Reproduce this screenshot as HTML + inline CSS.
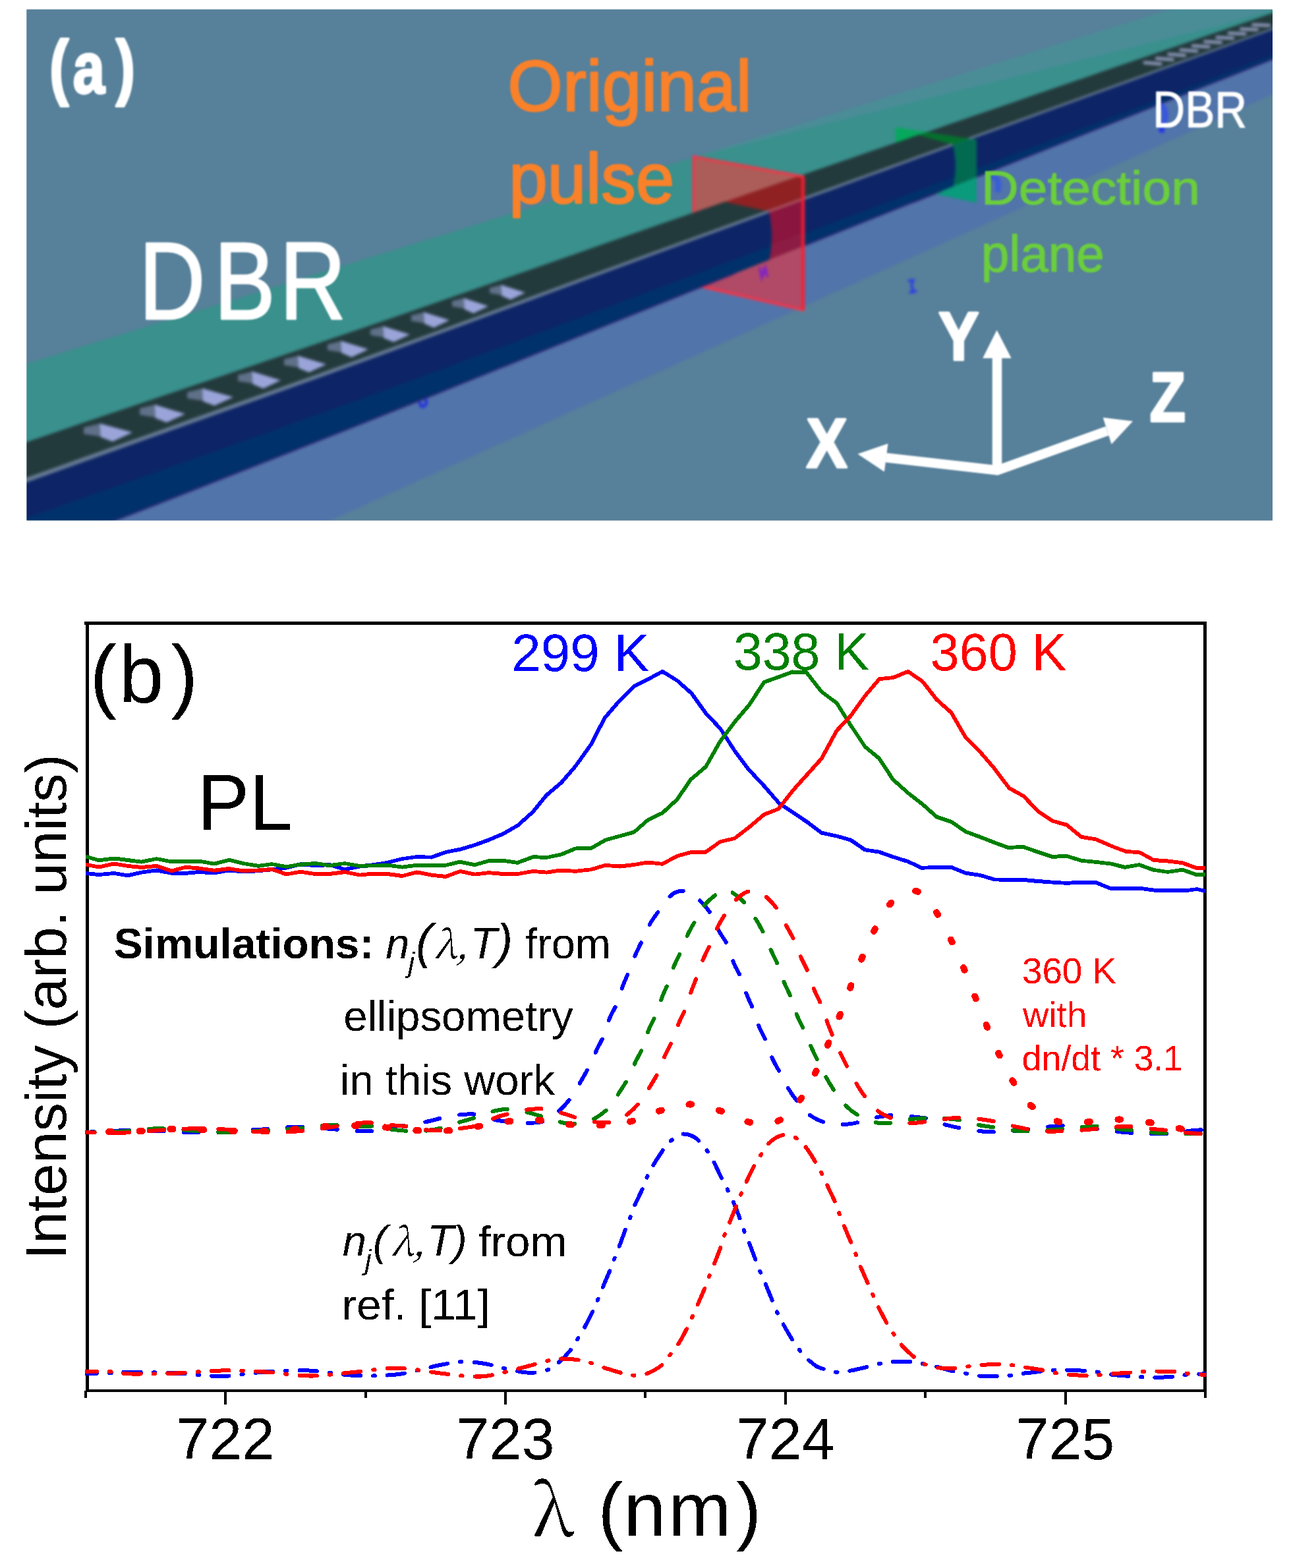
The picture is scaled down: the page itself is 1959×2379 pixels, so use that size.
<!DOCTYPE html>
<html lang="en"><head><meta charset="utf-8"><title>Figure: DBR waveguide simulation and PL spectra</title>
<style>html,body{margin:0;padding:0;background:#fff}body{width:1959px;height:2379px;overflow:hidden}svg{display:block}</style>
</head><body>
<svg width="1959" height="2379" viewBox="0 0 1959 2379">
<rect width="1959" height="2379" fill="#ffffff"/>
<defs><clipPath id="ca"><rect x="40.5" y="14.5" width="1890.5" height="775.0"/></clipPath>
<filter id="bl" x="-5%" y="-5%" width="110%" height="110%" color-interpolation-filters="sRGB"><feGaussianBlur stdDeviation="2.3"/></filter>
<filter id="bl2" x="-5%" y="-5%" width="110%" height="110%" color-interpolation-filters="sRGB"><feGaussianBlur stdDeviation="1.0"/></filter>
</defs>
<rect x="40.5" y="14.5" width="1890.5" height="775.0" fill="#57809a"/>
<g clip-path="url(#ca)">
<g filter="url(#bl)">
<rect x="0" y="0" width="1959" height="820" fill="#57809a"/>
<polygon points="-20.0,866.8 114.0,813.9 248.0,761.2 382.0,708.7 516.0,655.9 650.0,602.4 784.0,548.4 918.0,494.2 1052.0,440.3 1186.0,386.6 1320.0,333.1 1454.0,279.7 1588.0,226.3 1722.0,173.0 1856.0,119.7 1990.0,66.3 1990.0,116.2 1856.0,176.8 1722.0,237.4 1588.0,298.0 1454.0,358.6 1320.0,419.2 1186.0,479.9 1052.0,540.5 918.0,601.1 784.0,661.7 650.0,722.3 516.0,782.9 382.0,843.5 248.0,904.1 114.0,964.7 -20.0,1025.3" fill="#5174aa" />
<polygon points="-20.0,570.6 51.5,548.5 123.0,526.3 194.5,504.2 266.0,482.0 337.5,459.9 409.0,437.7 480.5,415.6 552.0,393.5 623.5,371.3 695.0,349.2 766.5,327.0 838.0,304.9 909.5,282.7 981.0,260.6 1052.5,238.4 1052.5,322.6 981.0,347.5 909.5,372.5 838.0,397.5 766.5,422.6 695.0,447.6 623.5,472.4 552.0,497.1 480.5,521.6 409.0,545.9 337.5,570.1 266.0,594.2 194.5,618.4 123.0,642.6 51.5,667.0 -20.0,691.4" fill="#39908c" />
<polygon points="1052.5,238.4 1115.0,219.1 1177.5,199.7 1240.0,180.4 1302.5,161.0 1365.0,141.7 1427.5,122.3 1490.0,103.0 1552.5,83.6 1615.0,64.2 1677.5,44.9 1740.0,25.5 1802.5,6.2 1865.0,-13.2 1927.5,-32.5 1990.0,-51.9 1990.0,-0.5 1927.5,21.0 1865.0,42.5 1802.5,64.1 1740.0,85.6 1677.5,107.1 1615.0,128.6 1552.5,150.1 1490.0,171.6 1427.5,193.1 1365.0,214.6 1302.5,236.1 1240.0,257.7 1177.5,279.3 1115.0,300.9 1052.5,322.6" fill="#39908c" />
<polygon points="1052.5,238.4 1186.4,197.0 1320.4,155.5 1454.3,114.0 1588.2,72.5 1722.1,31.1 1856.1,-10.4 1990.0,-51.9 1990.0,-3.5 1856.1,37.5 1722.1,71.0 1588.2,104.5 1454.3,138.0 1320.4,171.4 1186.4,204.9 1052.5,238.4" fill="#4a8d97" />
<polygon points="1385.0,207.7 1411.3,198.7 1437.6,189.6 1463.9,180.6 1490.2,171.5 1516.5,162.4 1542.8,153.4 1569.1,144.3 1595.4,135.3 1621.7,126.2 1648.0,117.2 1674.3,108.1 1700.7,99.1 1727.0,90.0 1753.3,81.0 1779.6,71.9 1805.9,62.9 1832.2,53.8 1858.5,44.8 1884.8,35.7 1911.1,26.7 1937.4,17.6 1963.7,8.6 1990.0,-0.5 1990.0,22.6 1963.7,32.1 1937.4,41.6 1911.1,51.1 1884.8,60.7 1858.5,70.2 1832.2,79.7 1805.9,89.2 1779.6,98.7 1753.3,108.2 1727.0,117.7 1700.7,127.3 1674.3,136.8 1648.0,146.3 1621.7,155.8 1595.4,165.3 1569.1,174.8 1542.8,184.4 1516.5,193.9 1490.2,203.4 1463.9,212.9 1437.6,222.4 1411.3,231.9 1385.0,241.5" fill="#233a3c"/>
<path d="M1385.0 240.5 L1411.3 230.9 L1437.6 221.4 L1463.9 211.9 L1490.2 202.4 L1516.5 192.9 L1542.8 183.4 L1569.1 173.8 L1595.4 164.3 L1621.7 154.8 L1648.0 145.3 L1674.3 135.8 L1700.7 126.3 L1727.0 116.7 L1753.3 107.2 L1779.6 97.7 L1805.9 88.2 L1832.2 78.7 L1858.5 69.2 L1884.8 59.7 L1911.1 50.1 L1937.4 40.6 L1963.7 31.1 L1990.0 21.6 L1990.0 66.3 L1963.7 76.8 L1937.4 87.3 L1911.1 97.7 L1884.8 108.2 L1858.5 118.7 L1832.2 129.1 L1805.9 139.6 L1779.6 150.1 L1753.3 160.6 L1727.0 171.0 L1700.7 181.5 L1674.3 192.0 L1648.0 202.4 L1621.7 212.9 L1595.4 223.4 L1569.1 233.9 L1542.8 244.3 L1516.5 254.8 L1490.2 265.3 L1463.9 275.8 L1437.6 286.2 L1411.3 296.7 L1385.0 307.2 Z" fill="#01316a"/>
<path d="M1385.0 240.5 L1411.3 230.9 L1437.6 221.4 L1463.9 211.9 L1490.2 202.4 L1516.5 192.9 L1542.8 183.4 L1569.1 173.8 L1595.4 164.3 L1621.7 154.8 L1648.0 145.3 L1674.3 135.8 L1700.7 126.3 L1727.0 116.7 L1753.3 107.2 L1779.6 97.7 L1805.9 88.2 L1832.2 78.7 L1858.5 69.2 L1884.8 59.7 L1911.1 50.1 L1937.4 40.6 L1963.7 31.1 L1990.0 21.6 L1990.0 59.8 L1963.7 70.1 L1937.4 80.4 L1911.1 90.7 L1884.8 101.1 L1858.5 111.4 L1832.2 121.7 L1805.9 132.1 L1779.6 142.3 L1753.3 152.3 L1727.0 162.4 L1700.7 172.4 L1674.3 182.4 L1648.0 192.4 L1621.7 202.4 L1595.4 212.4 L1569.1 222.4 L1542.8 232.4 L1516.5 242.3 L1490.2 252.3 L1463.9 262.2 L1437.6 272.2 L1411.3 282.1 L1385.0 292.0 Z" fill="#0d2466"/>
<polyline points="1385.0,307.2 1411.3,296.7 1437.6,286.2 1463.9,275.8 1490.2,265.3 1516.5,254.8 1542.8,244.3 1569.1,233.9 1595.4,223.4 1621.7,212.9 1648.0,202.4 1674.3,192.0 1700.7,181.5 1727.0,171.0 1753.3,160.6 1779.6,150.1 1805.9,139.6 1832.2,129.1 1858.5,118.7 1884.8,108.2 1911.1,97.7 1937.4,87.3 1963.7,76.8" fill="none" stroke="#3a1a72" stroke-width="2" opacity="0.8"/>
<polygon points="1385.0,239.4 1411.3,229.9 1437.6,220.5 1463.9,211.0 1490.2,201.5 1516.5,192.0 1542.8,182.5 1569.1,173.0 1595.4,163.5 1621.7,154.0 1648.0,144.6 1674.3,135.1 1700.7,125.6 1727.0,116.1 1753.3,106.6 1779.6,97.1 1805.9,87.7 1832.2,78.2 1858.5,68.7 1884.8,59.2 1911.1,49.7 1937.4,40.2 1963.7,30.8 1990.0,21.3 1990.0,23.9 1963.7,33.5 1937.4,43.0 1911.1,52.6 1884.8,62.1 1858.5,71.7 1832.2,81.2 1805.9,90.7 1779.6,100.3 1753.3,109.8 1727.0,119.4 1700.7,128.9 1674.3,138.5 1648.0,148.0 1621.7,157.6 1595.4,167.1 1569.1,176.7 1542.8,186.2 1516.5,195.8 1490.2,205.3 1463.9,214.8 1437.6,224.4 1411.3,233.9 1385.0,243.5" fill="#667a93"/>
<line x1="1737.0" y1="95.0" x2="1761.0" y2="97.1" stroke="#8a93b4" stroke-width="5" stroke-linecap="round"/>
<line x1="1755.3" y1="88.6" x2="1779.3" y2="90.6" stroke="#8a93b4" stroke-width="5" stroke-linecap="round"/>
<line x1="1773.6" y1="82.2" x2="1797.6" y2="84.1" stroke="#8a93b4" stroke-width="5" stroke-linecap="round"/>
<line x1="1791.9" y1="75.8" x2="1815.9" y2="77.5" stroke="#8a93b4" stroke-width="5" stroke-linecap="round"/>
<line x1="1810.2" y1="69.4" x2="1834.2" y2="71.0" stroke="#8a93b4" stroke-width="5" stroke-linecap="round"/>
<line x1="1828.5" y1="63.1" x2="1852.5" y2="64.5" stroke="#8a93b4" stroke-width="5" stroke-linecap="round"/>
<line x1="1846.8" y1="56.7" x2="1870.8" y2="58.0" stroke="#8a93b4" stroke-width="5" stroke-linecap="round"/>
<line x1="1865.1" y1="50.3" x2="1889.1" y2="51.4" stroke="#8a93b4" stroke-width="5" stroke-linecap="round"/>
<line x1="1883.4" y1="43.9" x2="1907.4" y2="44.9" stroke="#8a93b4" stroke-width="5" stroke-linecap="round"/>
<line x1="1901.7" y1="37.5" x2="1925.7" y2="38.4" stroke="#8a93b4" stroke-width="5" stroke-linecap="round"/>
<clipPath id="cg"><polygon points="1359.0,193.3 1481.7,212.3 1481.7,307.4 1359.0,281.7"/></clipPath>
<g clip-path="url(#cg)">
<rect x="1350" y="180" width="140" height="140" fill="#06a85c"/>
<polygon points="1340.0,325.1 1350.7,320.9 1361.3,316.6 1372.0,312.4 1382.7,308.1 1393.3,303.9 1404.0,299.6 1414.7,295.4 1425.3,291.1 1436.0,286.9 1446.7,282.6 1457.3,278.4 1468.0,274.1 1478.7,269.9 1489.3,265.6 1500.0,261.4 1500.0,461.4 1489.3,465.6 1478.7,469.9 1468.0,474.1 1457.3,478.4 1446.7,482.6 1436.0,486.9 1425.3,491.1 1414.7,495.4 1404.0,499.6 1393.3,503.9 1382.7,508.1 1372.0,512.4 1361.3,516.6 1350.7,520.9 1340.0,525.1" fill="#0a9a7c" />
<polygon points="1340.0,223.2 1350.7,219.5 1361.3,215.9 1372.0,212.2 1382.7,208.5 1393.3,204.8 1404.0,201.2 1414.7,197.5 1425.3,193.8 1436.0,190.2 1446.7,186.5 1457.3,182.8 1468.0,179.1 1478.7,175.5 1489.3,171.8 1500.0,168.1 1500.0,199.8 1489.3,203.7 1478.7,207.6 1468.0,211.4 1457.3,215.3 1446.7,219.1 1436.0,223.0 1425.3,226.9 1414.7,230.7 1404.0,234.6 1393.3,238.4 1382.7,242.3 1372.0,246.2 1361.3,250.0 1350.7,253.9 1340.0,257.8" fill="#04702c" />
<polygon points="1340.0,257.8 1350.7,253.9 1361.3,250.0 1372.0,246.2 1382.7,242.3 1393.3,238.4 1404.0,234.6 1414.7,230.7 1425.3,226.9 1436.0,223.0 1446.7,219.1 1457.3,215.3 1468.0,211.4 1478.7,207.6 1489.3,203.7 1500.0,199.8 1500.0,261.4 1489.3,265.6 1478.7,269.9 1468.0,274.1 1457.3,278.4 1446.7,282.6 1436.0,286.9 1425.3,291.1 1414.7,295.4 1404.0,299.6 1393.3,303.9 1382.7,308.1 1372.0,312.4 1361.3,316.6 1350.7,320.9 1340.0,325.1" fill="#036a52" />
</g>
<polygon points="1085.0,311.3 1100.7,305.9 1116.3,300.5 1132.0,295.0 1147.7,289.6 1163.3,284.2 1179.0,278.8 1194.7,273.3 1210.4,267.9 1226.0,262.5 1241.7,257.1 1257.4,251.7 1273.0,246.3 1288.7,240.9 1304.4,235.5 1320.0,230.1 1335.7,224.7 1351.4,219.3 1367.1,213.9 1382.7,208.5 1393.4,204.8 1445.4,219.6 1445.4,219.6 1429.7,225.3 1414.1,230.9 1398.4,236.6 1382.7,242.3 1367.1,248.0 1351.4,253.6 1335.7,259.3 1320.0,265.0 1304.4,270.7 1288.7,276.3 1273.0,282.0 1257.4,287.7 1241.7,293.4 1226.0,299.1 1210.4,304.8 1194.7,310.5 1179.0,316.1 1163.3,321.8 1147.7,327.5 1132.0,333.2 1116.3,338.9 1100.7,344.7 1085.0,350.4" fill="#233a3c"/>
<path d="M1085.0 349.4 L1100.7 343.7 L1116.3 337.9 L1132.0 332.2 L1147.7 326.5 L1163.3 320.8 L1179.0 315.1 L1194.7 309.5 L1210.4 303.8 L1226.0 298.1 L1241.7 292.4 L1257.4 286.7 L1273.0 281.0 L1288.7 275.3 L1304.4 269.7 L1320.0 264.0 L1335.7 258.3 L1351.4 252.6 L1367.1 247.0 L1382.7 241.3 L1398.4 235.6 L1414.1 229.9 L1429.7 224.3 L1445.4 218.6 Q1454.4 250.9 1446.2 283.1 L1445.4 283.1 L1429.7 289.4 L1414.1 295.6 L1398.4 301.9 L1382.7 308.1 L1367.1 314.3 L1351.4 320.6 L1335.7 326.8 L1320.0 333.1 L1304.4 339.3 L1288.7 345.6 L1273.0 351.8 L1257.4 358.1 L1241.7 364.3 L1226.0 370.6 L1210.4 376.8 L1194.7 383.1 L1179.0 389.4 L1163.3 395.6 L1147.7 401.9 L1132.0 408.2 L1116.3 414.4 L1100.7 420.7 L1085.0 427.0 Z" fill="#01316a"/>
<path d="M1085.0 349.4 L1100.7 343.7 L1116.3 337.9 L1132.0 332.2 L1147.7 326.5 L1163.3 320.8 L1179.0 315.1 L1194.7 309.5 L1210.4 303.8 L1226.0 298.1 L1241.7 292.4 L1257.4 286.7 L1273.0 281.0 L1288.7 275.3 L1304.4 269.7 L1320.0 264.0 L1335.7 258.3 L1351.4 252.6 L1367.1 247.0 L1382.7 241.3 L1398.4 235.6 L1414.1 229.9 L1429.7 224.3 L1445.4 218.6 Q1451.4 243.9 1445.6 269.2 L1445.4 269.2 L1429.7 275.1 L1414.1 281.0 L1398.4 287.0 L1382.7 292.9 L1367.1 298.8 L1351.4 304.7 L1335.7 310.6 L1320.0 316.5 L1304.4 322.4 L1288.7 328.2 L1273.0 334.1 L1257.4 340.0 L1241.7 345.9 L1226.0 351.8 L1210.4 357.7 L1194.7 363.6 L1179.0 369.4 L1163.3 375.3 L1147.7 381.2 L1132.0 387.1 L1116.3 392.9 L1100.7 398.8 L1085.0 404.7 Z" fill="#0d2466"/>
<polyline points="1085.0,427.0 1100.7,420.7 1116.3,414.4 1132.0,408.2 1147.7,401.9 1163.3,395.6 1179.0,389.4 1194.7,383.1 1210.4,376.8 1226.0,370.6 1241.7,364.3 1257.4,358.1 1273.0,351.8 1288.7,345.6 1304.4,339.3 1320.0,333.1 1335.7,326.8 1351.4,320.6 1367.1,314.3 1382.7,308.1 1398.4,301.9 1414.1,295.6 1429.7,289.4" fill="none" stroke="#3a1a72" stroke-width="2" opacity="0.8"/>
<polygon points="1085.0,348.0 1100.7,342.3 1116.3,336.6 1132.0,330.9 1147.7,325.2 1163.3,319.5 1179.0,313.9 1194.7,308.2 1210.4,302.5 1226.0,296.9 1241.7,291.2 1257.4,285.5 1273.0,279.9 1288.7,274.2 1304.4,268.5 1320.0,262.9 1335.7,257.2 1351.4,251.6 1367.1,245.9 1382.7,240.3 1398.4,234.6 1414.1,228.9 1429.7,223.3 1445.4,217.6 1445.4,221.6 1429.7,227.3 1414.1,232.9 1398.4,238.6 1382.7,244.3 1367.1,250.0 1351.4,255.7 1335.7,261.4 1320.0,267.1 1304.4,272.8 1288.7,278.5 1273.0,284.2 1257.4,289.9 1241.7,295.6 1226.0,301.3 1210.4,307.0 1194.7,312.7 1179.0,318.4 1163.3,324.1 1147.7,329.9 1132.0,335.6 1116.3,341.3 1100.7,347.0 1085.0,352.8" fill="#667a93"/>
<clipPath id="cr"><polygon points="1052.5,237.6 1218.7,268.0 1218.7,470.3 1052.5,432.0"/></clipPath>
<g clip-path="url(#cr)">
<rect x="1040" y="220" width="200" height="270" fill="#ac5d59"/>
<polygon points="1040.0,445.1 1053.3,439.7 1066.7,434.4 1080.0,429.0 1093.3,423.7 1106.7,418.3 1120.0,413.0 1133.3,407.6 1146.7,402.3 1160.0,397.0 1173.3,391.6 1186.7,386.3 1200.0,381.0 1213.3,375.6 1226.7,370.3 1240.0,365.0 1240.0,565.0 1226.7,570.3 1213.3,575.6 1200.0,581.0 1186.7,586.3 1173.3,591.6 1160.0,597.0 1146.7,602.3 1133.3,607.6 1120.0,613.0 1106.7,618.3 1093.3,623.7 1080.0,629.0 1066.7,634.4 1053.3,639.7 1040.0,645.1" fill="#b04a66" />
<polygon points="1040.0,327.0 1053.3,322.3 1066.7,317.7 1080.0,313.1 1093.3,308.4 1106.7,303.8 1120.0,299.2 1133.3,294.6 1146.7,290.0 1160.0,285.3 1173.3,280.7 1186.7,276.1 1200.0,271.5 1213.3,266.9 1226.7,262.3 1240.0,257.7 1240.0,294.0 1226.7,298.8 1213.3,303.7 1200.0,308.5 1186.7,313.4 1173.3,318.2 1160.0,323.1 1146.7,327.9 1133.3,332.8 1120.0,337.6 1106.7,342.5 1093.3,347.3 1080.0,352.2 1066.7,357.1 1053.3,361.9 1040.0,366.8" fill="#8f2123" />
<polygon points="1040.0,366.8 1053.3,361.9 1066.7,357.1 1080.0,352.2 1093.3,347.3 1106.7,342.5 1120.0,337.6 1133.3,332.8 1146.7,327.9 1160.0,323.1 1173.3,318.2 1186.7,313.4 1200.0,308.5 1213.3,303.7 1226.7,298.8 1240.0,294.0 1240.0,346.5 1226.7,351.5 1213.3,356.6 1200.0,361.6 1186.7,366.6 1173.3,371.6 1160.0,376.6 1146.7,381.6 1133.3,386.6 1120.0,391.6 1106.7,396.6 1093.3,401.6 1080.0,406.6 1066.7,411.6 1053.3,416.6 1040.0,421.6" fill="#8a153e" />
<polygon points="1040.0,421.6 1053.3,416.6 1066.7,411.6 1080.0,406.6 1093.3,401.6 1106.7,396.6 1120.0,391.6 1133.3,386.6 1146.7,381.6 1160.0,376.6 1173.3,371.6 1186.7,366.6 1200.0,361.6 1213.3,356.6 1226.7,351.5 1240.0,346.5 1240.0,365.0 1226.7,370.3 1213.3,375.6 1200.0,381.0 1186.7,386.3 1173.3,391.6 1160.0,397.0 1146.7,402.3 1133.3,407.6 1120.0,413.0 1106.7,418.3 1093.3,423.7 1080.0,429.0 1066.7,434.4 1053.3,439.7 1040.0,445.1" fill="#8c1c44" />
<line x1="1040" y1="366.8" x2="1240" y2="294.0" stroke="#a8505e" stroke-width="4"/>
</g>
<polygon points="1052.5,237.6 1218.7,268.0 1218.7,470.3 1052.5,432.0" fill="none" stroke="#ff3044" stroke-width="3.5"/>
<line x1="1218.7" y1="268" x2="1218.7" y2="470" stroke="#ff1c30" stroke-width="4.5"/>
<polygon points="-20.0,691.4 31.6,673.7 83.2,656.2 134.7,638.6 186.3,621.2 237.9,603.7 289.5,586.3 341.1,568.9 392.7,551.4 444.2,533.9 495.8,516.3 547.4,498.7 599.0,480.9 650.6,463.0 702.2,445.1 753.7,427.0 805.3,409.0 856.9,390.9 908.5,372.8 960.1,354.8 1011.7,336.8 1063.2,318.9 1099.4,306.3 1166.4,320.7 1166.4,320.7 1114.8,339.5 1063.2,358.3 1011.7,377.2 960.1,396.1 908.5,415.0 856.9,434.0 805.3,453.0 753.7,471.9 702.2,490.9 650.6,509.7 599.0,528.5 547.4,547.2 495.8,565.8 444.2,584.3 392.7,602.7 341.1,621.1 289.5,639.4 237.9,657.7 186.3,676.1 134.7,694.5 83.2,712.9 31.6,731.4 -20.0,749.9" fill="#233a3c"/>
<path d="M-20.0 748.9 L31.6 730.4 L83.2 711.9 L134.7 693.5 L186.3 675.1 L237.9 656.7 L289.5 638.4 L341.1 620.1 L392.7 601.7 L444.2 583.3 L495.8 564.8 L547.4 546.2 L599.0 527.5 L650.6 508.7 L702.2 489.9 L753.7 470.9 L805.3 452.0 L856.9 433.0 L908.5 414.0 L960.1 395.1 L1011.7 376.2 L1063.2 357.3 L1114.8 338.5 L1166.4 319.7 Q1175.4 357.1 1167.2 394.4 L1166.4 394.4 L1114.8 415.1 L1063.2 435.7 L1011.7 456.5 L960.1 477.3 L908.5 498.1 L856.9 518.9 L805.3 539.8 L753.7 560.6 L702.2 581.4 L650.6 602.2 L599.0 622.8 L547.4 643.4 L495.8 663.9 L444.2 684.2 L392.7 704.5 L341.1 724.8 L289.5 745.0 L237.9 765.2 L186.3 785.4 L134.7 805.7 L83.2 826.0 L31.6 846.4 L-20.0 866.8 Z" fill="#01316a"/>
<path d="M-20.0 748.9 L31.6 730.4 L83.2 711.9 L134.7 693.5 L186.3 675.1 L237.9 656.7 L289.5 638.4 L341.1 620.1 L392.7 601.7 L444.2 583.3 L495.8 564.8 L547.4 546.2 L599.0 527.5 L650.6 508.7 L702.2 489.9 L753.7 470.9 L805.3 452.0 L856.9 433.0 L908.5 414.0 L960.1 395.1 L1011.7 376.2 L1063.2 357.3 L1114.8 338.5 L1166.4 319.7 Q1172.4 346.9 1166.6 374.2 L1166.4 374.2 L1114.8 393.5 L1063.2 412.9 L1011.7 432.2 L960.1 451.6 L908.5 471.0 L856.9 490.3 L805.3 509.7 L753.7 528.9 L702.2 548.1 L650.6 567.3 L599.0 586.2 L547.4 605.1 L495.8 623.8 L444.2 642.3 L392.7 660.8 L341.1 679.2 L289.5 697.4 L237.9 715.7 L186.3 734.0 L134.7 752.2 L83.2 770.4 L31.6 788.7 L-20.0 806.9 Z" fill="#0d2466"/>
<polyline points="-20.0,866.8 31.6,846.4 83.2,826.0 134.7,805.7 186.3,785.4 237.9,765.2 289.5,745.0 341.1,724.8 392.7,704.5 444.2,684.2 495.8,663.9 547.4,643.4 599.0,622.8 650.6,602.2 702.2,581.4 753.7,560.6 805.3,539.8 856.9,518.9 908.5,498.1 960.1,477.3 1011.7,456.5 1063.2,435.7 1114.8,415.1" fill="none" stroke="#3a1a72" stroke-width="2" opacity="0.8"/>
<polygon points="-20.0,746.3 31.6,727.8 83.2,709.4 134.7,691.0 186.3,672.7 237.9,654.4 289.5,636.1 341.1,617.8 392.7,599.5 444.2,581.2 495.8,562.7 547.4,544.2 599.0,525.6 650.6,506.9 702.2,488.0 753.7,469.2 805.3,450.3 856.9,431.3 908.5,412.4 960.1,393.5 1011.7,374.7 1063.2,355.9 1114.8,337.2 1166.4,318.4 1166.4,323.0 1114.8,341.9 1063.2,360.7 1011.7,379.6 960.1,398.6 908.5,417.6 856.9,436.6 805.3,455.7 753.7,474.7 702.2,493.7 650.6,512.6 599.0,531.5 547.4,550.2 495.8,568.9 444.2,587.4 392.7,605.9 341.1,624.3 289.5,642.7 237.9,661.1 186.3,679.5 134.7,698.0 83.2,716.5 31.6,735.0 -20.0,753.6" fill="#667a93"/>
<polygon points="127.0,648.5 153.6,642.3 154.6,662.4 127.0,658.6" fill="#5f7089"/>
<polygon points="151.6,642.4 201.0,656.1 170.8,670.0 152.6,663.1" fill="#9aa4d9"/>
<polygon points="212.0,619.6 236.8,613.8 237.8,633.5 212.0,629.4" fill="#5f7089"/>
<polygon points="234.8,614.0 281.0,628.0 252.8,641.1 235.8,634.2" fill="#9aa4d9"/>
<polygon points="284.0,595.1 309.1,589.1 310.1,608.3 284.0,604.6" fill="#5f7089"/>
<polygon points="307.1,589.3 354.0,602.4 325.4,615.6 308.1,609.0" fill="#9aa4d9"/>
<polygon points="361.0,568.9 384.4,563.5 385.4,582.1 361.0,578.2" fill="#5f7089"/>
<polygon points="382.4,563.6 426.0,577.1 399.4,589.5 383.4,582.8" fill="#9aa4d9"/>
<polygon points="431.0,545.0 454.1,539.6 455.1,557.8 431.0,554.1" fill="#5f7089"/>
<polygon points="452.1,539.8 495.0,552.7 468.8,565.0 453.1,558.5" fill="#9aa4d9"/>
<polygon points="497.0,522.4 519.4,517.1 520.4,534.9 497.0,531.3" fill="#5f7089"/>
<polygon points="517.4,517.3 559.0,530.0 533.6,541.9 518.4,535.6" fill="#9aa4d9"/>
<polygon points="562.0,499.9 583.6,494.8 584.6,512.2 562.0,508.6" fill="#5f7089"/>
<polygon points="581.6,495.0 622.0,507.4 597.4,519.1 582.6,512.9" fill="#9aa4d9"/>
<polygon points="624.0,478.4 645.0,473.4 646.0,490.4 624.0,486.9" fill="#5f7089"/>
<polygon points="643.0,473.6 682.0,485.8 658.2,497.2 644.0,491.1" fill="#9aa4d9"/>
<polygon points="686.0,456.7 705.9,452.0 706.9,468.6 686.0,465.0" fill="#5f7089"/>
<polygon points="703.9,452.2 741.0,464.4 718.4,475.4 704.9,469.3" fill="#9aa4d9"/>
<polygon points="743.0,436.7 762.5,432.0 763.5,448.2 743.0,444.8" fill="#5f7089"/>
<polygon points="760.5,432.3 797.0,444.1 774.8,454.8 761.5,448.9" fill="#9aa4d9"/>
<path d="M637 611 q2 10 9 3 q2 -3 0 -7" fill="none" stroke="#2430e0" stroke-width="4.5" stroke-linecap="round"/>
<path d="M1379 426 l7 -1 l-3 8 l3 8 l-6 3 l10 -2" fill="none" stroke="#2a3ae8" stroke-width="3.5" stroke-linecap="round"/>
<path d="M1153 407 l3 14 l5 -15 l3 13" fill="none" stroke="#7a20d0" stroke-width="3.5" stroke-linecap="round"/>
<path d="M1762 160 q10 8 4 26" fill="none" stroke="#3550e8" stroke-width="9" stroke-linecap="round" opacity="0.85"/><circle cx="1763" cy="197" r="4.5" fill="#2030f0"/>
<path d="M1506 268 q12 4 8 20" fill="none" stroke="#3558e0" stroke-width="9" stroke-linecap="round" opacity="0.85"/>
</g>
<g filter="url(#bl2)">
<text transform="scale(0.8650 1.0900)" x="87.04 127.94 203.60" y="126.61 128.99 126.61" font-family='"Liberation Sans", Arial, Helvetica, sans-serif' font-size="100" font-weight="bold" fill="#ffffff" stroke="#fff" stroke-width="3.6" stroke-linejoin="round">(a)</text>
<text transform="scale(1.3950 1.6750)" x="151.08 232.87 304.20" y="289.01 289.01 289.01" font-family='"Liberation Sans", Arial, Helvetica, sans-serif' font-size="100" fill="#ffffff" stroke="#fff" stroke-width="1.6" stroke-linejoin="round">DBR</text>
<text transform="translate(1749.24 192.60) scale(0.6773 0.7718)" font-family='"Liberation Sans", Arial, Helvetica, sans-serif' font-size="100" fill="#ffffff"  stroke="#ffffff" stroke-width="1.38" stroke-linejoin="round">DBR</text>
<text transform="translate(770.36 167.65) scale(1.0746 1.0847)" font-family='"Liberation Sans", Arial, Helvetica, sans-serif' font-size="100" fill="#f9812a"  stroke="#f9812a" stroke-width="2.32" stroke-linejoin="round">Original</text>
<text transform="translate(772.28 307.95) scale(1.0496 1.0668)" font-family='"Liberation Sans", Arial, Helvetica, sans-serif' font-size="100" fill="#f9812a"  stroke="#f9812a" stroke-width="2.36" stroke-linejoin="round">pulse</text>
<text transform="translate(1489.05 310.30) scale(0.7857 0.7311)" font-family='"Liberation Sans", Arial, Helvetica, sans-serif' font-size="100" fill="#6bce3d"  stroke="#6bce3d" stroke-width="1.58" stroke-linejoin="round">Detection</text>
<text transform="translate(1488.67 411.80) scale(0.7648 0.7687)" font-family='"Liberation Sans", Arial, Helvetica, sans-serif' font-size="100" fill="#6bce3d"  stroke="#6bce3d" stroke-width="1.57" stroke-linejoin="round">plane</text>
<text transform="translate(1424.28 545.85) scale(0.9167 1.0422)" font-family='"Liberation Sans", Arial, Helvetica, sans-serif' font-size="100" font-weight="bold" fill="#ffffff"  stroke="#ffffff" stroke-width="3.57" stroke-linejoin="round">Y</text>
<text transform="translate(1744.71 639.15) scale(0.8855 1.0480)" font-family='"Liberation Sans", Arial, Helvetica, sans-serif' font-size="100" font-weight="bold" fill="#ffffff"  stroke="#ffffff" stroke-width="3.62" stroke-linejoin="round">Z</text>
<text transform="translate(1223.84 709.25) scale(0.9270 1.0480)" font-family='"Liberation Sans", Arial, Helvetica, sans-serif' font-size="100" font-weight="bold" fill="#ffffff"  stroke="#ffffff" stroke-width="3.54" stroke-linejoin="round">X</text>
<g fill="#fff" stroke="#fff" stroke-linejoin="miter">
<polyline points="1344.5,694.4 1513.4,713.5 1680.0,653.8" fill="none" stroke-width="14.5" stroke-linejoin="miter"/>
<line x1="1513" y1="543" x2="1513" y2="714" stroke-width="14.5"/>
<polygon points="1512.6,500.8 1534.7,543.4 1491.2,543.4" stroke="none"/>
<polygon points="1719.1,639.1 1686.6,674.1 1673.7,633.5" stroke="none"/>
<polygon points="1301.4,688.8 1347.5,673.0 1341.9,715.8" stroke="none"/>
</g>
</g>
</g>
<defs><clipPath id="cb"><rect x="129.5" y="943" width="1700.8" height="1169"/></clipPath>
<filter id="thr" x="0" y="0" width="100%" height="100%" filterUnits="userSpaceOnUse" color-interpolation-filters="sRGB"><feComponentTransfer><feFuncA type="discrete" tableValues="0 1"/></feComponentTransfer></filter></defs>
<g filter="url(#thr)">
<g fill="#000" shape-rendering="crispEdges">
<rect x="128" y="943" width="1703" height="4.6"/>
<rect x="130.2" y="943" width="4.4" height="1169"/>
<rect x="1826.4" y="943" width="4.5" height="1169"/>
<rect x="130.2" y="2107.8" width="1700.7" height="4.4"/>
<rect x="340.1" y="2110" width="4" height="21"/>
<rect x="764.9" y="2110" width="4" height="21"/>
<rect x="1189.8" y="2110" width="4" height="21"/>
<rect x="1614.6" y="2110" width="4" height="21"/>
<rect x="127.7" y="2110" width="4" height="10.8"/>
<rect x="552.5" y="2110" width="4" height="10.8"/>
<rect x="977.3" y="2110" width="4" height="10.8"/>
<rect x="1402.2" y="2110" width="4" height="10.8"/>
<rect x="1827.0" y="2110" width="4" height="10.8"/>
</g>
<g clip-path="url(#cb)" fill="none" stroke-linejoin="round">
<path d="M130.0 2084.0 C135.8 2083.9 153.3 2083.8 165.0 2083.4 C176.7 2083.0 182.8 2081.8 200.0 2081.8 C217.2 2081.8 245.5 2082.5 268.0 2083.5 C290.5 2084.5 312.7 2088.3 335.0 2088.0 C357.3 2087.7 379.7 2082.9 402.0 2081.5 C424.3 2080.1 446.7 2078.5 469.0 2079.4 C491.3 2080.3 513.7 2085.8 536.0 2086.8 C558.3 2087.8 581.0 2087.8 603.0 2085.2 C625.0 2082.6 651.4 2074.2 668.0 2071.0 C684.6 2067.8 691.5 2066.3 702.8 2066.0 C714.1 2065.7 725.3 2067.2 736.0 2069.0 C746.7 2070.8 756.0 2074.2 767.0 2076.5 C778.0 2078.8 791.3 2082.4 802.0 2082.7 C812.7 2083.0 823.4 2081.1 831.1 2078.4 C838.9 2075.7 842.5 2071.8 848.5 2066.5 C854.5 2061.2 862.2 2052.8 867.0 2046.7 C871.8 2040.6 874.0 2035.7 877.5 2029.9 C881.0 2024.1 884.3 2019.1 888.1 2012.0 C891.9 2004.9 897.2 1994.2 900.5 1987.2 C903.8 1980.2 905.4 1975.9 907.9 1969.9 C910.4 1963.9 912.3 1958.7 915.4 1951.3 C918.5 1943.9 923.6 1932.4 926.5 1925.3 C929.4 1918.2 930.4 1914.4 932.7 1908.5 C935.0 1902.6 937.3 1897.4 940.1 1890.1 C942.9 1882.8 946.6 1871.7 949.3 1864.6 C952.0 1857.5 953.9 1853.3 956.2 1847.3 C958.5 1841.3 960.1 1835.9 963.2 1828.7 C966.3 1821.5 971.8 1810.9 974.8 1803.9 C977.8 1796.9 978.9 1792.4 981.5 1786.6 C984.1 1780.8 986.7 1775.7 990.4 1769.3 C994.1 1762.9 999.6 1754.3 1003.8 1748.2 C1008.0 1742.1 1011.0 1737.2 1015.7 1732.9 C1020.4 1728.6 1027.3 1724.2 1031.8 1722.2 C1036.3 1720.2 1038.6 1720.0 1042.9 1721.0 C1047.2 1722.0 1053.0 1724.5 1057.8 1728.4 C1062.6 1732.3 1067.8 1738.9 1071.9 1744.5 C1076.0 1750.1 1078.8 1754.6 1082.6 1761.8 C1086.4 1769.0 1091.5 1780.7 1095.0 1787.8 C1098.5 1794.9 1100.7 1798.6 1103.6 1804.4 C1106.5 1810.2 1109.2 1815.3 1112.3 1822.5 C1115.4 1829.7 1119.5 1840.1 1122.2 1847.3 C1124.9 1854.5 1126.1 1859.9 1128.4 1865.9 C1130.7 1871.9 1132.9 1876.0 1135.8 1883.2 C1138.7 1890.4 1142.9 1902.0 1145.7 1909.2 C1148.5 1916.4 1150.0 1920.8 1152.4 1926.6 C1154.8 1932.4 1156.9 1936.7 1159.9 1943.9 C1162.9 1951.1 1167.6 1962.7 1170.5 1969.9 C1173.4 1977.1 1174.7 1981.2 1177.4 1987.2 C1180.1 1993.2 1182.8 1998.8 1186.6 2005.8 C1190.4 2012.8 1196.3 2023.0 1200.2 2029.4 C1204.1 2035.8 1206.4 2039.2 1210.1 2044.2 C1213.8 2049.2 1217.8 2054.3 1222.5 2059.1 C1227.2 2063.8 1234.0 2069.7 1238.6 2072.7 C1243.2 2075.7 1245.1 2075.5 1250.0 2077.0 C1254.9 2078.5 1261.9 2081.2 1268.0 2081.8 C1274.1 2082.4 1278.5 2081.7 1286.4 2080.4 C1294.3 2079.1 1307.3 2076.0 1315.2 2074.1 C1323.1 2072.2 1327.6 2070.4 1333.6 2069.1 C1339.5 2067.8 1342.6 2066.6 1350.9 2066.1 C1359.2 2065.6 1375.3 2065.6 1383.2 2066.1 C1391.1 2066.6 1392.2 2067.7 1398.2 2068.8 C1404.2 2070.0 1410.9 2071.0 1418.9 2073.0 C1427.0 2075.0 1438.8 2078.8 1446.5 2080.6 C1454.2 2082.4 1458.7 2082.7 1465.0 2083.8 C1471.3 2084.9 1476.3 2086.6 1484.6 2087.3 C1492.8 2088.0 1506.4 2088.1 1514.5 2088.0 C1522.6 2087.9 1526.8 2087.5 1533.0 2086.8 C1539.2 2086.1 1543.2 2085.1 1551.4 2084.0 C1559.7 2082.9 1574.5 2081.3 1582.5 2080.4 C1590.5 2079.5 1593.7 2078.9 1599.6 2078.6 C1605.5 2078.3 1609.6 2078.4 1617.8 2078.6 C1626.0 2078.8 1640.9 2079.3 1648.9 2079.8 C1657.0 2080.3 1660.0 2080.7 1666.1 2081.6 C1672.1 2082.5 1676.8 2084.4 1685.2 2085.5 C1693.6 2086.6 1708.2 2087.5 1716.3 2088.1 C1724.3 2088.7 1727.8 2089.0 1733.5 2089.3 C1739.2 2089.6 1742.4 2090.0 1750.8 2089.9 C1759.2 2089.8 1775.6 2089.2 1783.7 2088.5 C1791.8 2087.8 1791.7 2086.6 1799.2 2085.9 C1806.8 2085.2 1824.0 2084.5 1829.0 2084.2" stroke="#0000ff" stroke-dasharray="26.4 19 2.4 19.1" stroke-dashoffset="9.4" stroke-linecap="round" stroke-width="6"/>
<path d="M130.0 2081.0 C135.8 2081.0 153.3 2080.4 165.0 2081.0 C176.7 2081.6 182.8 2084.1 200.0 2084.5 C217.2 2084.9 245.5 2084.2 268.0 2083.4 C290.5 2082.6 312.7 2079.7 335.0 2079.4 C357.3 2079.1 379.7 2080.2 402.0 2081.5 C424.3 2082.8 446.7 2087.4 469.0 2087.5 C491.3 2087.6 513.7 2083.9 536.0 2082.0 C558.3 2080.1 581.0 2075.6 603.0 2075.8 C625.0 2076.0 651.4 2081.5 668.0 2083.4 C684.6 2085.3 691.5 2086.7 702.8 2087.5 C714.1 2088.3 725.3 2089.0 736.0 2088.0 C746.7 2087.0 756.0 2084.1 767.0 2081.5 C778.0 2078.9 790.9 2075.4 802.0 2072.5 C813.1 2069.6 825.2 2065.8 833.6 2064.0 C842.0 2062.2 844.2 2061.6 852.2 2061.6 C860.2 2061.6 874.0 2062.8 881.9 2064.0 C889.8 2065.2 894.0 2067.1 899.8 2069.0 C905.6 2070.9 908.9 2072.7 916.6 2075.2 C924.4 2077.7 938.2 2082.0 946.3 2083.9 C954.3 2085.8 958.9 2086.8 964.9 2086.8 C970.9 2086.8 975.7 2086.5 982.2 2083.9 C988.7 2081.3 998.0 2076.2 1003.8 2071.5 C1009.6 2066.8 1012.6 2060.8 1016.9 2055.4 C1021.1 2050.0 1025.0 2046.1 1029.3 2039.3 C1033.6 2032.5 1039.3 2021.5 1042.9 2014.5 C1046.5 2007.5 1048.2 2003.2 1050.9 1997.2 C1053.6 1991.2 1055.8 1986.0 1059.0 1978.6 C1062.2 1971.2 1067.3 1959.8 1070.2 1952.6 C1073.1 1945.4 1074.1 1941.6 1076.4 1935.7 C1078.7 1929.8 1080.9 1924.7 1083.8 1917.4 C1086.7 1910.1 1091.1 1899.2 1093.7 1891.9 C1096.3 1884.6 1097.2 1879.9 1099.4 1873.8 C1101.6 1867.7 1103.8 1862.8 1106.8 1855.5 C1109.8 1848.2 1114.3 1837.2 1117.2 1830.0 C1120.1 1822.8 1121.7 1818.1 1124.2 1812.1 C1126.7 1806.1 1128.8 1801.1 1132.1 1794.0 C1135.4 1786.9 1140.5 1775.9 1144.0 1769.3 C1147.5 1762.7 1149.8 1759.8 1153.2 1754.4 C1156.6 1749.0 1160.2 1741.8 1164.3 1737.1 C1168.4 1732.3 1173.2 1728.5 1177.9 1725.9 C1182.7 1723.3 1187.7 1721.5 1192.8 1721.7 C1197.9 1721.9 1203.4 1723.6 1208.8 1727.2 C1214.2 1730.8 1219.8 1736.7 1224.9 1743.3 C1230.0 1749.9 1235.5 1760.1 1239.4 1766.8 C1243.3 1773.5 1245.5 1777.6 1248.4 1783.4 C1251.3 1789.2 1253.3 1794.1 1256.7 1801.4 C1260.1 1808.7 1265.7 1819.9 1268.7 1827.2 C1271.7 1834.5 1272.7 1839.3 1274.9 1845.2 C1277.1 1851.1 1278.8 1855.1 1281.8 1862.4 C1284.8 1869.7 1289.9 1881.6 1292.9 1888.9 C1295.9 1896.2 1297.5 1900.4 1299.8 1906.2 C1302.1 1912.0 1303.6 1916.7 1306.7 1924.0 C1309.8 1931.3 1315.1 1942.9 1318.2 1950.0 C1321.3 1957.1 1323.1 1961.1 1325.6 1966.8 C1328.1 1972.5 1329.7 1976.9 1333.2 1983.9 C1336.7 1990.9 1342.6 2002.1 1346.4 2008.8 C1350.2 2015.5 1353.0 2019.2 1356.3 2024.2 C1359.6 2029.2 1361.2 2033.0 1366.2 2038.7 C1371.2 2044.4 1380.2 2053.2 1386.2 2058.3 C1392.2 2063.4 1396.5 2066.6 1402.4 2069.4 C1408.4 2072.2 1413.9 2074.0 1421.9 2075.1 C1430.0 2076.2 1442.8 2076.3 1450.7 2076.0 C1458.6 2075.7 1463.1 2074.1 1469.2 2073.3 C1475.3 2072.5 1479.3 2071.6 1487.6 2071.0 C1495.8 2070.4 1510.6 2069.7 1518.7 2069.8 C1526.8 2069.9 1530.0 2070.6 1536.0 2071.4 C1542.0 2072.2 1546.0 2073.1 1554.4 2074.4 C1562.9 2075.8 1578.7 2078.0 1586.7 2079.5 C1594.7 2081.0 1596.5 2082.3 1602.2 2083.3 C1608.0 2084.3 1612.9 2084.8 1621.2 2085.5 C1629.5 2086.2 1644.2 2087.2 1652.3 2087.3 C1660.4 2087.4 1663.8 2086.4 1669.6 2085.9 C1675.4 2085.4 1678.6 2084.9 1686.9 2084.3 C1695.2 2083.7 1711.4 2082.7 1719.7 2082.1 C1728.0 2081.5 1731.2 2081.2 1737.0 2080.9 C1742.8 2080.6 1746.0 2080.4 1754.3 2080.4 C1762.6 2080.4 1778.8 2080.6 1787.1 2081.2 C1795.4 2081.8 1797.4 2083.4 1804.4 2084.2 C1811.4 2085.0 1824.9 2085.6 1829.0 2085.9" stroke="#ff0000" stroke-dasharray="26.4 19 2.4 19.1" stroke-dashoffset="9.4" stroke-linecap="round" stroke-width="6"/>
<path d="M130.0 1718.0 C136.7 1717.7 158.5 1716.6 170.0 1716.0 C181.5 1715.4 187.3 1714.6 199.0 1714.6 C210.7 1714.6 224.8 1715.4 240.0 1716.0 C255.2 1716.6 273.3 1717.7 290.0 1718.0 C306.7 1718.3 324.4 1718.7 340.0 1718.0 C355.6 1717.3 371.5 1714.8 383.5 1714.0 C395.5 1713.2 400.9 1713.8 412.0 1713.0 C423.1 1712.2 434.8 1709.4 450.0 1709.4 C465.2 1709.4 487.3 1711.9 503.0 1713.0 C518.7 1714.1 533.1 1715.3 544.2 1715.8 C555.3 1716.3 559.7 1717.0 569.5 1715.8 C579.3 1714.6 594.2 1709.6 603.0 1708.4 C611.8 1707.2 614.8 1709.6 622.5 1708.4 C630.2 1707.2 640.5 1703.6 649.0 1701.5 C657.5 1699.4 664.6 1697.4 673.2 1695.7 C681.9 1694.0 692.1 1691.9 700.9 1691.1 C709.7 1690.3 717.6 1689.8 726.2 1691.1 C734.8 1692.4 744.1 1697.3 752.7 1699.2 C761.4 1701.1 769.3 1701.8 778.1 1702.6 C786.9 1703.4 797.2 1704.2 805.7 1703.8 C814.2 1703.3 821.5 1703.2 828.8 1699.9 C836.1 1696.6 843.3 1690.1 849.7 1684.2 C856.1 1678.3 861.6 1671.8 867.0 1664.4 C872.4 1657.0 877.5 1647.4 882.0 1639.6 C886.5 1631.8 890.4 1625.1 894.3 1617.3 C898.2 1609.5 901.8 1600.4 905.5 1592.6 C909.2 1584.8 913.3 1578.3 916.6 1570.3 C919.9 1562.2 922.0 1552.3 925.3 1544.3 C928.6 1536.2 933.1 1530.0 936.4 1522.0 C939.7 1514.0 942.0 1504.3 945.1 1496.0 C948.2 1487.7 951.7 1480.6 955.0 1472.4 C958.3 1464.2 961.6 1454.9 965.0 1446.9 C968.4 1438.9 972.0 1432.2 975.6 1424.6 C979.2 1417.0 982.3 1408.6 986.5 1401.3 C990.7 1394.0 995.5 1387.9 1000.8 1380.8 C1006.1 1373.7 1013.2 1363.2 1018.2 1358.5 C1023.2 1353.8 1026.3 1353.1 1030.6 1352.3 C1034.9 1351.5 1038.8 1351.0 1044.2 1353.5 C1049.6 1356.0 1057.0 1361.6 1062.8 1367.2 C1068.6 1372.8 1074.2 1379.4 1078.9 1387.0 C1083.6 1394.6 1086.9 1405.0 1091.2 1413.0 C1095.5 1421.0 1101.2 1427.2 1104.9 1435.3 C1108.6 1443.3 1110.2 1453.2 1113.5 1461.3 C1116.8 1469.4 1121.4 1476.0 1124.7 1484.1 C1128.0 1492.1 1130.3 1501.5 1133.4 1509.6 C1136.5 1517.7 1140.2 1524.5 1143.3 1532.6 C1146.4 1540.6 1148.6 1549.8 1151.9 1557.9 C1155.2 1566.0 1159.8 1573.5 1163.1 1581.4 C1166.4 1589.3 1168.3 1597.7 1171.8 1605.5 C1175.3 1613.3 1180.0 1620.8 1184.1 1628.5 C1188.2 1636.2 1192.0 1644.6 1196.5 1652.0 C1201.0 1659.4 1205.8 1666.3 1211.4 1673.1 C1217.0 1679.9 1222.9 1687.5 1230.0 1692.6 C1237.1 1697.7 1245.7 1701.5 1254.1 1703.8 C1262.5 1706.0 1271.8 1706.4 1280.6 1706.1 C1289.4 1705.8 1298.3 1703.8 1307.1 1701.9 C1315.9 1700.0 1324.9 1696.3 1333.6 1694.6 C1342.2 1692.9 1350.2 1691.8 1359.0 1691.8 C1367.8 1691.8 1378.0 1693.6 1386.6 1694.6 C1395.2 1695.6 1402.3 1695.9 1410.8 1698.0 C1419.2 1700.1 1428.6 1704.8 1437.3 1707.2 C1446.0 1709.6 1453.9 1711.0 1462.7 1712.5 C1471.5 1714.0 1481.5 1715.7 1490.3 1716.5 C1499.1 1717.3 1507.2 1717.3 1515.7 1717.1 C1524.2 1716.9 1532.5 1716.1 1541.0 1715.3 C1549.5 1714.5 1557.7 1713.5 1566.8 1712.5 C1575.9 1711.5 1586.4 1709.9 1595.6 1709.1 C1604.8 1708.3 1609.4 1707.2 1622.1 1707.9 C1634.8 1708.6 1658.5 1711.9 1671.7 1713.5 C1685.0 1715.1 1692.2 1716.6 1701.6 1717.6 C1711.0 1718.6 1719.4 1718.9 1728.1 1719.4 C1736.8 1719.9 1744.8 1720.4 1753.5 1720.4 C1762.2 1720.4 1770.8 1720.2 1780.0 1719.4 C1789.2 1718.6 1800.6 1716.2 1808.8 1715.3 C1817.0 1714.4 1825.6 1714.3 1829.0 1714.1" stroke="#0000ff" stroke-dasharray="22.8 29.9" stroke-linecap="round" stroke-width="6" stroke-dashoffset="9.3"/>
<path d="M130.0 1718.0 C139.2 1717.8 167.0 1717.5 185.0 1716.6 C203.0 1715.6 220.5 1712.5 238.0 1712.3 C255.5 1712.1 272.2 1714.2 290.0 1715.2 C307.8 1716.2 327.0 1718.0 345.0 1718.0 C363.0 1718.0 380.5 1716.2 398.0 1715.2 C415.5 1714.2 432.5 1713.7 450.0 1712.3 C467.5 1710.9 486.3 1707.6 503.0 1707.0 C519.7 1706.4 538.9 1708.5 550.0 1708.8 C561.1 1709.1 561.6 1707.9 569.5 1708.8 C577.4 1709.7 588.4 1712.9 597.2 1714.1 C606.0 1715.3 613.9 1715.8 622.5 1716.0 C631.1 1716.2 640.4 1716.3 649.0 1715.3 C657.6 1714.3 665.8 1712.5 674.4 1710.2 C683.0 1707.9 692.4 1704.1 700.9 1701.5 C709.4 1698.9 716.6 1697.3 725.1 1694.6 C733.6 1691.9 743.0 1687.2 751.6 1685.3 C760.2 1683.4 768.1 1682.4 776.9 1683.0 C785.7 1683.6 796.0 1686.7 804.6 1688.8 C813.2 1690.9 820.2 1693.2 828.8 1695.7 C837.4 1698.2 847.6 1702.4 856.4 1703.8 C865.2 1705.2 874.0 1705.4 881.8 1704.2 C889.6 1703.0 896.0 1700.5 903.0 1696.6 C910.0 1692.6 917.8 1687.1 924.0 1680.5 C930.2 1673.9 935.1 1664.6 940.1 1657.0 C945.1 1649.4 949.7 1642.5 953.8 1634.7 C957.9 1626.9 961.1 1617.8 964.9 1609.9 C968.7 1602.0 973.3 1595.1 976.6 1587.1 C979.9 1579.0 981.5 1569.8 984.7 1561.6 C987.9 1553.4 992.6 1546.1 995.9 1538.1 C999.2 1530.0 1001.4 1521.3 1004.5 1513.3 C1007.6 1505.2 1011.4 1497.8 1014.5 1489.8 C1017.6 1481.8 1019.8 1473.0 1023.1 1465.0 C1026.4 1457.0 1030.8 1449.5 1034.3 1441.5 C1037.8 1433.5 1040.5 1424.5 1044.2 1416.7 C1047.9 1408.9 1052.5 1401.6 1056.6 1394.4 C1060.7 1387.2 1063.6 1379.8 1069.0 1373.3 C1074.4 1366.8 1083.5 1359.3 1088.8 1355.5 C1094.1 1351.7 1097.3 1350.8 1101.0 1350.5 C1104.7 1350.2 1106.2 1350.8 1111.0 1354.0 C1115.8 1357.2 1123.7 1362.9 1129.6 1369.6 C1135.5 1376.2 1141.6 1386.1 1146.5 1393.9 C1151.4 1401.7 1155.0 1408.3 1158.9 1416.2 C1162.8 1424.1 1166.2 1433.5 1169.8 1441.5 C1173.4 1449.5 1177.1 1456.2 1180.4 1464.3 C1183.7 1472.3 1186.3 1481.6 1189.6 1489.8 C1192.9 1498.0 1197.0 1505.0 1200.2 1513.3 C1203.4 1521.5 1205.7 1531.2 1208.9 1539.3 C1212.1 1547.3 1215.8 1553.8 1219.3 1561.6 C1222.8 1569.4 1226.4 1578.4 1230.0 1586.4 C1233.6 1594.5 1236.2 1600.2 1241.1 1609.9 C1246.0 1619.6 1252.6 1633.6 1259.4 1644.6 C1266.2 1655.6 1274.6 1667.8 1281.8 1675.7 C1289.0 1683.7 1294.4 1687.7 1302.5 1692.3 C1310.6 1696.9 1321.4 1701.5 1330.2 1703.3 C1339.0 1705.1 1346.9 1704.2 1355.5 1703.3 C1364.1 1702.4 1373.2 1699.2 1382.0 1698.0 C1390.8 1696.8 1399.7 1696.6 1408.5 1696.4 C1417.3 1696.2 1426.2 1696.2 1435.0 1696.9 C1443.8 1697.6 1452.8 1698.6 1461.5 1700.3 C1470.2 1702.0 1478.2 1705.4 1486.9 1707.2 C1495.6 1709.0 1504.6 1709.9 1513.4 1711.2 C1522.2 1712.5 1531.1 1714.4 1539.9 1715.3 C1548.7 1716.2 1557.3 1716.7 1566.4 1716.5 C1575.5 1716.3 1585.6 1714.8 1594.5 1714.1 C1603.4 1713.4 1611.0 1713.3 1619.8 1712.5 C1628.6 1711.7 1638.7 1710.1 1647.5 1709.5 C1656.3 1708.9 1664.0 1708.1 1672.8 1708.8 C1681.6 1709.5 1691.7 1712.4 1700.5 1713.5 C1709.3 1714.6 1717.0 1714.4 1725.8 1715.3 C1734.6 1716.2 1744.7 1718.1 1753.5 1718.8 C1762.3 1719.5 1770.0 1719.1 1778.8 1719.4 C1787.6 1719.7 1798.1 1720.4 1806.5 1720.4 C1814.9 1720.4 1825.2 1719.6 1829.0 1719.4" stroke="#008000" stroke-dasharray="22.8 29.9" stroke-linecap="round" stroke-width="6" stroke-dashoffset="9.3"/>
<path d="M130.0 1718.0 C139.2 1718.1 167.0 1719.2 185.0 1718.7 C203.0 1718.2 220.3 1716.3 238.0 1715.2 C255.7 1714.1 273.0 1712.5 291.0 1712.3 C309.0 1712.1 328.2 1712.9 346.0 1713.8 C363.8 1714.7 380.7 1717.0 398.0 1717.5 C415.3 1718.0 432.5 1717.8 450.0 1716.6 C467.5 1715.3 487.5 1712.1 503.0 1710.0 C518.5 1707.9 531.9 1705.0 543.0 1704.0 C554.1 1703.0 560.7 1703.3 569.5 1703.8 C578.3 1704.3 587.2 1706.2 596.0 1707.2 C604.8 1708.2 613.7 1708.3 622.5 1709.5 C631.3 1710.7 640.4 1713.8 649.0 1714.6 C657.6 1715.4 665.8 1715.1 674.4 1714.6 C683.0 1714.1 691.3 1713.2 700.9 1711.8 C710.5 1710.4 723.5 1708.8 732.0 1706.1 C740.5 1703.4 744.1 1698.6 751.6 1695.7 C759.1 1692.8 768.1 1690.9 776.9 1688.8 C785.7 1686.7 795.8 1684.0 804.6 1683.0 C813.4 1682.0 821.3 1681.8 829.9 1683.0 C838.5 1684.2 847.8 1687.5 856.4 1690.0 C865.0 1692.5 872.9 1695.8 881.8 1698.0 C890.7 1700.2 901.1 1702.5 910.0 1703.0 C918.9 1703.5 927.7 1703.3 935.0 1701.0 C942.3 1698.7 947.8 1694.1 953.8 1689.2 C959.8 1684.3 965.6 1678.6 971.1 1671.8 C976.6 1665.0 981.8 1656.0 986.5 1648.3 C991.2 1640.5 995.8 1633.3 999.6 1625.3 C1003.4 1617.3 1006.0 1608.4 1009.5 1600.5 C1013.0 1592.6 1017.2 1585.7 1020.6 1577.7 C1024.0 1569.7 1026.7 1560.5 1030.0 1552.4 C1033.3 1544.4 1037.3 1537.6 1040.5 1529.4 C1043.7 1521.2 1046.1 1511.7 1049.1 1503.4 C1052.1 1495.2 1055.2 1488.2 1058.3 1479.9 C1061.4 1471.7 1064.3 1462.0 1067.7 1453.9 C1071.1 1445.9 1074.9 1439.4 1078.4 1431.6 C1081.9 1423.8 1084.9 1414.6 1088.8 1406.8 C1092.7 1399.0 1097.4 1391.3 1101.9 1384.5 C1106.4 1377.7 1111.4 1370.9 1116.0 1365.9 C1120.6 1361.0 1125.3 1357.2 1129.6 1354.8 C1133.9 1352.4 1138.6 1352.2 1142.0 1351.8 C1145.4 1351.4 1146.5 1351.0 1150.0 1352.5 C1153.5 1354.0 1158.2 1356.6 1163.1 1361.0 C1168.0 1365.4 1174.2 1371.9 1179.2 1379.0 C1184.2 1386.1 1188.5 1395.8 1192.8 1403.8 C1197.1 1411.8 1201.5 1419.1 1205.2 1427.1 C1208.9 1435.1 1211.6 1443.9 1215.1 1451.9 C1218.6 1459.9 1222.9 1466.8 1226.2 1474.9 C1229.5 1483.0 1231.6 1492.1 1234.9 1500.4 C1238.2 1508.7 1241.9 1514.3 1246.0 1524.5 C1250.1 1534.7 1253.7 1547.6 1259.4 1561.6 C1265.2 1575.6 1272.8 1593.4 1280.5 1608.7 C1288.2 1624.0 1297.2 1640.9 1305.3 1653.3 C1313.4 1665.7 1321.2 1675.8 1329.0 1683.0 C1336.8 1690.2 1343.8 1692.9 1352.1 1696.4 C1360.4 1699.9 1369.8 1702.9 1378.6 1703.8 C1387.4 1704.7 1396.3 1702.9 1405.1 1701.9 C1413.9 1700.9 1422.8 1699.0 1431.6 1698.0 C1440.4 1697.0 1449.3 1695.8 1458.1 1695.7 C1466.9 1695.6 1475.8 1696.6 1484.6 1697.6 C1493.4 1698.6 1502.4 1700.1 1511.1 1701.9 C1519.8 1703.7 1528.4 1706.5 1536.9 1708.4 C1545.4 1710.3 1553.4 1712.2 1562.2 1713.5 C1571.0 1714.8 1581.1 1716.1 1589.9 1716.5 C1598.7 1716.9 1606.4 1716.3 1615.2 1716.0 C1624.0 1715.7 1633.7 1715.3 1642.9 1714.6 C1652.1 1713.9 1661.7 1712.6 1670.5 1711.8 C1679.3 1711.0 1687.5 1709.9 1695.9 1709.5 C1704.4 1709.1 1712.2 1708.9 1721.2 1709.5 C1730.2 1710.1 1741.2 1712.0 1750.0 1713.0 C1758.8 1714.0 1765.6 1714.3 1774.2 1715.3 C1782.8 1716.3 1792.7 1717.9 1801.8 1718.8 C1810.9 1719.7 1824.5 1720.1 1829.0 1720.4" stroke="#ff0000" stroke-dasharray="22.8 29.9" stroke-linecap="round" stroke-width="6" stroke-dashoffset="9.3"/>
<path d="M130.0 1718.0 C136.7 1717.8 155.8 1717.3 170.0 1717.0 C184.2 1716.7 199.6 1716.7 215.0 1716.0 C230.4 1715.3 246.8 1713.3 262.6 1713.0 C278.4 1712.7 294.3 1713.5 310.0 1714.0 C325.7 1714.5 341.3 1715.7 357.0 1716.0 C372.7 1716.3 388.5 1716.5 404.0 1716.0 C419.5 1715.5 434.5 1714.2 450.0 1713.0 C465.5 1711.8 481.5 1709.8 497.0 1709.0 C512.5 1708.2 527.6 1707.7 543.0 1708.0 C558.4 1708.3 573.7 1709.5 589.1 1710.7 C604.5 1711.9 619.7 1714.5 635.2 1715.3 C650.8 1716.1 666.9 1716.4 682.4 1715.3 C697.9 1714.2 713.1 1710.8 728.5 1708.4 C743.9 1706.0 759.1 1702.4 774.6 1701.0 C790.1 1699.6 806.4 1699.0 821.8 1699.9 C837.2 1700.8 851.4 1705.3 866.8 1706.5 C882.2 1707.7 898.5 1708.2 914.0 1707.2 C929.5 1706.2 945.1 1704.5 960.0 1700.8 C974.9 1697.0 988.3 1688.9 1003.3 1684.7 C1018.3 1680.5 1034.8 1675.4 1049.9 1675.5 C1065.0 1675.6 1079.0 1681.0 1093.7 1685.5 C1108.4 1690.0 1123.6 1700.3 1138.3 1702.8 C1153.0 1705.3 1168.8 1706.3 1181.7 1700.3 C1194.6 1694.3 1206.0 1679.4 1215.4 1666.9 C1224.9 1654.4 1231.5 1639.2 1238.4 1625.3 C1245.3 1611.3 1251.0 1597.3 1257.0 1583.2 C1263.0 1569.1 1268.7 1554.8 1274.3 1540.6 C1279.9 1526.4 1284.9 1512.2 1290.4 1498.0 C1295.9 1483.8 1301.4 1469.1 1307.3 1455.1 C1313.2 1441.0 1319.0 1426.8 1325.6 1413.7 C1332.2 1400.6 1340.2 1385.6 1346.9 1376.3 C1353.6 1367.0 1359.7 1362.2 1366.0 1358.0 C1372.3 1353.8 1378.3 1350.7 1384.5 1351.0 C1390.7 1351.3 1396.5 1353.7 1403.0 1360.0 C1409.5 1366.3 1416.7 1377.0 1423.7 1388.7 C1430.7 1400.4 1438.5 1416.3 1445.2 1430.3 C1451.9 1444.2 1457.9 1458.3 1463.8 1472.4 C1469.7 1486.5 1475.0 1500.8 1480.7 1515.0 C1486.4 1529.2 1492.0 1543.8 1497.8 1557.9 C1503.6 1572.0 1509.4 1585.9 1515.8 1599.5 C1522.2 1613.1 1528.7 1626.9 1536.4 1639.6 C1544.2 1652.3 1550.7 1665.2 1562.3 1675.6 C1573.9 1686.0 1591.2 1697.4 1606.3 1701.8 C1621.4 1706.2 1637.3 1702.5 1652.8 1702.0 C1668.3 1701.5 1683.9 1698.3 1699.3 1698.5 C1714.7 1698.7 1730.0 1701.0 1745.4 1703.3 C1760.8 1705.6 1777.6 1709.9 1791.5 1712.5 C1805.4 1715.1 1822.8 1717.8 1829.0 1718.8" stroke="#ff0000" stroke-dasharray="4.2 42.5" stroke-linecap="round" stroke-width="10" stroke-dashoffset="-35"/>
<polyline points="130.0,1324.9 150.0,1327.2 173.0,1324.9 193.7,1328.3 214.5,1323.7 237.5,1320.3 260.6,1324.9 281.3,1324.9 302.0,1323.0 325.0,1324.4 348.0,1320.3 368.8,1322.6 391.9,1321.4 412.6,1319.1 434.5,1316.8 456.4,1311.0 479.4,1313.4 500.0,1312.0 523.0,1319.1 546.0,1314.5 566.8,1312.2 587.6,1308.8 610.6,1303.0 632.5,1300.0 654.4,1300.7 676.3,1293.0 698.2,1288.7 720.0,1282.3 742.0,1274.2 763.8,1265.0 785.7,1252.3 808.8,1231.6 829.5,1206.2 851.4,1187.8 873.3,1162.4 896.9,1129.4 917.5,1089.4 939.3,1064.0 962.3,1041.0 984.0,1030.2 1005.3,1018.8 1027.6,1032.6 1049.4,1052.0 1071.1,1082.2 1092.9,1105.2 1114.7,1139.0 1136.5,1168.0 1158.2,1191.0 1182.4,1218.9 1204.2,1233.4 1226.0,1248.0 1246.6,1263.6 1269.5,1268.5 1290.9,1274.5 1312.7,1289.5 1334.4,1292.7 1355.0,1300.0 1378.0,1307.2 1398.6,1316.9 1421.5,1315.7 1443.3,1315.7 1465.1,1324.6 1486.9,1327.8 1508.6,1334.3 1531.6,1335.0 1553.4,1335.0 1575.2,1337.0 1597.0,1338.7 1618.7,1339.9 1633.8,1339.0 1662.9,1339.0 1685.0,1347.9 1730.6,1347.9 1751.3,1350.7 1803.9,1350.7 1816.3,1349.0 1829.0,1352.0" stroke="#0000ff" stroke-width="5.8" stroke-linejoin="round"/>
<polyline points="130.0,1299.5 150.0,1305.3 173.0,1302.3 193.7,1305.0 214.5,1307.6 237.5,1303.0 258.2,1307.0 281.3,1306.8 302.0,1306.5 325.0,1310.6 348.0,1304.8 368.8,1310.0 391.9,1313.8 412.6,1311.0 434.5,1315.0 456.4,1311.5 479.4,1310.0 500.2,1313.2 523.0,1310.0 546.0,1313.8 566.8,1313.3 587.6,1312.7 610.6,1315.7 632.5,1312.7 654.4,1312.7 676.3,1312.7 698.2,1307.6 720.0,1312.2 742.0,1306.0 763.8,1305.8 785.7,1308.8 808.8,1300.2 829.5,1301.0 851.4,1296.5 873.3,1287.3 896.9,1287.1 918.7,1274.5 940.5,1268.5 962.3,1262.4 982.8,1244.3 1005.3,1233.4 1027.6,1212.8 1048.2,1182.6 1071.1,1163.2 1092.9,1124.5 1114.7,1095.5 1136.5,1070.0 1159.5,1035.0 1181.2,1027.3 1203.0,1019.3 1223.6,1020.0 1246.6,1049.5 1269.5,1066.5 1290.9,1100.5 1312.7,1133.0 1334.4,1151.1 1355.0,1182.6 1378.0,1203.2 1399.8,1220.1 1421.5,1239.5 1443.3,1246.7 1465.1,1261.7 1486.9,1269.7 1508.6,1278.2 1530.4,1286.2 1552.2,1284.7 1575.2,1292.7 1597.0,1300.0 1618.7,1298.7 1640.7,1305.8 1662.9,1307.8 1686.4,1310.6 1707.0,1315.9 1728.5,1312.0 1750.7,1319.9 1772.0,1323.0 1794.2,1319.6 1815.0,1326.9 1829.0,1326.9" stroke="#008000" stroke-width="5.8" stroke-linejoin="round"/>
<polyline points="130.0,1311.5 150.0,1315.7 173.0,1310.4 193.7,1313.8 214.5,1316.0 237.5,1313.8 260.6,1321.4 281.3,1315.7 302.0,1317.5 325.0,1320.7 348.0,1318.0 368.8,1321.4 391.9,1320.5 412.6,1319.0 434.5,1326.5 456.4,1322.6 474.8,1325.6 500.0,1326.0 523.0,1323.0 546.0,1327.6 566.8,1325.3 587.6,1326.0 610.6,1329.0 632.5,1323.3 654.4,1327.6 676.3,1330.0 698.2,1321.9 720.0,1326.7 742.0,1324.2 763.8,1326.0 785.7,1326.0 808.8,1321.9 829.5,1323.7 851.4,1320.3 873.3,1321.9 896.9,1319.3 918.7,1312.8 940.5,1314.5 962.3,1312.0 982.8,1308.4 1005.3,1310.8 1027.6,1298.7 1049.4,1292.7 1071.1,1292.7 1092.9,1277.0 1114.7,1272.0 1136.5,1255.2 1159.5,1235.8 1181.2,1227.4 1203.0,1199.5 1223.6,1176.5 1246.6,1151.0 1269.5,1108.8 1290.9,1086.0 1312.7,1055.6 1334.4,1030.2 1355.0,1028.2 1378.0,1018.8 1399.8,1033.8 1421.5,1061.6 1443.3,1081.0 1465.1,1118.5 1486.9,1140.3 1508.6,1165.7 1531.6,1195.9 1553.4,1208.0 1575.2,1231.0 1597.0,1245.5 1618.7,1251.6 1640.7,1269.8 1662.9,1273.3 1686.4,1283.6 1708.5,1291.9 1729.2,1293.3 1750.7,1305.0 1772.0,1306.5 1794.2,1309.2 1815.0,1316.8 1829.0,1316.8" stroke="#ff0000" stroke-width="5.8" stroke-linejoin="round"/>
</g>
<text x="342.1" y="2214" font-family='"Liberation Sans", Arial, Helvetica, sans-serif' font-size="89.6" text-anchor="middle" fill="#000">722</text>
<text x="766.9" y="2214" font-family='"Liberation Sans", Arial, Helvetica, sans-serif' font-size="89.6" text-anchor="middle" fill="#000">723</text>
<text x="1191.8" y="2214" font-family='"Liberation Sans", Arial, Helvetica, sans-serif' font-size="89.6" text-anchor="middle" fill="#000">724</text>
<text x="1616.6" y="2214" font-family='"Liberation Sans", Arial, Helvetica, sans-serif' font-size="89.6" text-anchor="middle" fill="#000">725</text>
<text font-family='"Liberation Sans", Arial, Helvetica, sans-serif' font-size="115.0" fill="#000"><tspan font-family='"Noto Serif CJK SC", "Liberation Serif", serif' font-size="108" x="808.2" y="2330.2">λ</tspan> <tspan x="907.2 946.6 1013.8 1117.0" y="2329.5">(nm)</tspan></text>
<text transform="translate(99.9 1911.0) rotate(-90)" font-family='"Liberation Sans", Arial, Helvetica, sans-serif' font-size="87.32" fill="#000">Intensity (arb. units)</text>
<text transform="scale(1.2300 1.2390)" x="110.71 146.48 210.88" y="860.13 860.13 860.13" font-family='"Liberation Sans", Arial, Helvetica, sans-serif' font-size="100" fill="#000" >(b)</text>
<text transform="translate(299.17 1259.00) scale(1.1860 1.1977)" font-family='"Liberation Sans", Arial, Helvetica, sans-serif' font-size="100" fill="#000" >PL</text>
<text transform="translate(776.28 1017.80) scale(0.7991 0.7920)" font-family='"Liberation Sans", Arial, Helvetica, sans-serif' font-size="100" fill="#0000ff" >299 K</text>
<text transform="translate(1112.90 1016.40) scale(0.7882 0.7934)" font-family='"Liberation Sans", Arial, Helvetica, sans-serif' font-size="100" fill="#008000" >338 K</text>
<text transform="translate(1411.58 1017.20) scale(0.7917 0.7963)" font-family='"Liberation Sans", Arial, Helvetica, sans-serif' font-size="100" fill="#ff0000" >360 K</text>
<text transform="translate(172.81 1453.70) scale(0.6575 0.6468)" font-family='"Liberation Sans", Arial, Helvetica, sans-serif' font-size="100" font-weight="bold" fill="#000" >Simulations:</text>
<text font-family='"Liberation Sans", Arial, Helvetica, sans-serif' font-style="italic" fill="#000"><tspan x="585.2" y="1454.2" font-size="65.0">n</tspan><tspan x="619.5" y="1474.6" font-size="43.0">j</tspan><tspan x="630.9" y="1454.2" font-size="75.0">(</tspan><tspan x="659.0" y="1454.2" font-size="58.5" font-family='"Noto Serif CJK SC", "Liberation Serif", serif'>λ</tspan><tspan x="690.8" y="1454.2" font-size="62.0" font-family='"Noto Serif CJK SC", "Liberation Serif", serif'>,</tspan><tspan x="713.4" y="1454.2" font-size="66.8">T</tspan><tspan x="753.3" y="1454.2" font-size="75.0">)</tspan></text>
<text transform="translate(797.08 1453.70) scale(0.6495 0.6523)" font-family='"Liberation Sans", Arial, Helvetica, sans-serif' font-size="100" fill="#000" >from</text>
<text transform="translate(521.22 1564.30) scale(0.6534 0.6500)" font-family='"Liberation Sans", Arial, Helvetica, sans-serif' font-size="100" fill="#000" >ellipsometry</text>
<text transform="translate(516.04 1661.00) scale(0.6515 0.6514)" font-family='"Liberation Sans", Arial, Helvetica, sans-serif' font-size="100" fill="#000" >in this work</text>
<text transform="translate(1550.91 1491.90) scale(0.5480 0.5514)" font-family='"Liberation Sans", Arial, Helvetica, sans-serif' font-size="100" fill="#ff0000" >360 K</text>
<text transform="translate(1551.88 1557.80) scale(0.5470 0.5424)" font-family='"Liberation Sans", Arial, Helvetica, sans-serif' font-size="100" fill="#ff0000" >with</text>
<text transform="translate(1550.75 1623.90) scale(0.5362 0.5424)" font-family='"Liberation Sans", Arial, Helvetica, sans-serif' font-size="100" fill="#ff0000" >dn/dt * 3.1</text>
<text font-family='"Liberation Sans", Arial, Helvetica, sans-serif' font-style="italic" fill="#000"><tspan x="519.7" y="1905.4" font-size="65.0">n</tspan><tspan x="554.0" y="1925.8" font-size="43.0">j</tspan><tspan x="565.9" y="1905.4" font-size="65.0">(</tspan><tspan x="593.5" y="1905.4" font-size="58.5" font-family='"Noto Serif CJK SC", "Liberation Serif", serif'>λ</tspan><tspan x="625.3" y="1905.4" font-size="62.0" font-family='"Noto Serif CJK SC", "Liberation Serif", serif'>,</tspan><tspan x="647.9" y="1905.4" font-size="66.8">T</tspan><tspan x="686.9" y="1905.4" font-size="65.0">)</tspan></text>
<text transform="translate(725.85 1905.80) scale(0.6740 0.6523)" font-family='"Liberation Sans", Arial, Helvetica, sans-serif' font-size="100" fill="#000" >from</text>
<text transform="translate(518.49 2001.60) scale(0.6785 0.6500)" font-family='"Liberation Sans", Arial, Helvetica, sans-serif' font-size="100" fill="#000" >ref. [11]</text>
</g>
</svg></body></html>
